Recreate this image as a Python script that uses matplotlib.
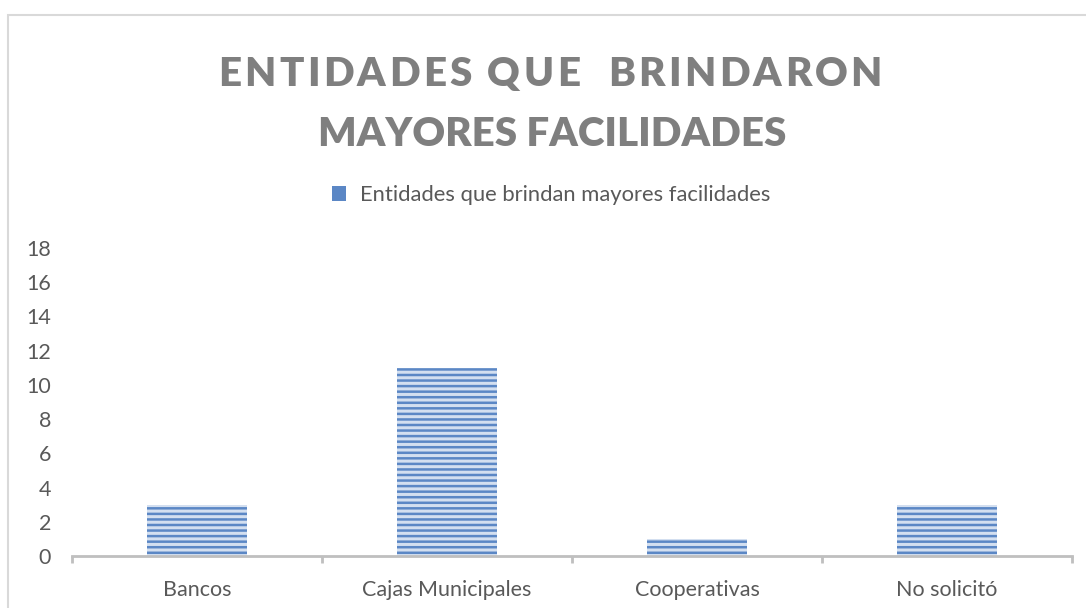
import matplotlib
matplotlib.use("Agg")
import matplotlib.pyplot as plt
from matplotlib.patches import Rectangle, Patch

categories = ["Bancos", "Cajas Municipales", "Cooperativas", "No solicitó"]
values = [3, 11, 1, 3]
series_name = "Entidades que brindan mayores facilidades"
title_lines = ["ENTIDADES QUE  BRINDARON", "MAYORES FACILIDADES"]
yticks = list(range(0, 20, 2))

plt.rcParams["font.family"] = ["Lato", "DejaVu Sans"]
plt.rcParams["hatch.linewidth"] = 1.8

TEXT = "#595959"
BLUE = "#5b87c5"
LABEL_SIZE = 15.5

fig = plt.figure(figsize=(10.86, 6.08), dpi=100)
W, H = 1086, 608


def fx(px):
    return px / W


def fy(py):
    return 1 - py / H


# outer chart frame
fig.patches.append(Rectangle((fx(8), fy(700)), fx(1200), fy(15) - fy(700),
                             transform=fig.transFigure, fill=False,
                             edgecolor="#d9d9d9", linewidth=1.5))

ax = fig.add_axes([fx(72), fy(556), fx(1072) - fx(72), fy(248) - fy(556)])
x = list(range(len(categories)))
ax.bar(x, values, width=0.4, color="#d3dff0", edgecolor=BLUE,
       hatch="---", linewidth=0)
ax.set_xlim(-0.5, len(categories) - 0.5)
ax.set_ylim(0, 18)
ax.set_yticks(yticks)
ax.set_xticks(x)
ax.set_xticklabels(categories)
ax.set_xticks([i - 0.5 for i in range(len(categories) + 1)], minor=True)
ax.tick_params(axis="x", which="major", length=0, pad=17, labelsize=LABEL_SIZE,
               labelcolor=TEXT)
ax.tick_params(axis="x", which="minor", length=5, width=2, color="#bfbfbf",
               direction="out")
ax.tick_params(axis="y", length=0, pad=15, labelsize=LABEL_SIZE, labelcolor=TEXT)
for side in ["left", "right", "top"]:
    ax.spines[side].set_visible(False)
ax.spines["bottom"].set_color("#bfbfbf")
ax.spines["bottom"].set_linewidth(2)

# legend
ax.legend(handles=[Patch(facecolor=BLUE, edgecolor="none")], labels=[series_name],
          loc="center", bbox_to_anchor=(fx(551), fy(195)),
          bbox_transform=fig.transFigure, frameon=False, fontsize=15.8,
          labelcolor=TEXT, handlelength=0.65, handleheight=0.65,
          handletextpad=0.6)

# title, first line letter-spaced like the source
fig.canvas.draw()
renderer = fig.canvas.get_renderer()
chars = []
for ch in title_lines[0]:
    t = fig.text(0, 0, ch, fontsize=29, fontweight="heavy", color="#7f7f7f")
    chars.append((t, t.get_window_extent(renderer).width))
spacing = (664 - sum(w for _, w in chars)) / (len(chars) - 1)
xpos = 550 - 664 / 2
for t, w in chars:
    t.set_position((fx(xpos), fy(86)))
    xpos += w + spacing
fig.text(fx(552), fy(146), title_lines[1], fontsize=29, fontweight="heavy",
         color="#7f7f7f", ha="center", va="baseline")

fig.savefig("out.png", dpi=100)
